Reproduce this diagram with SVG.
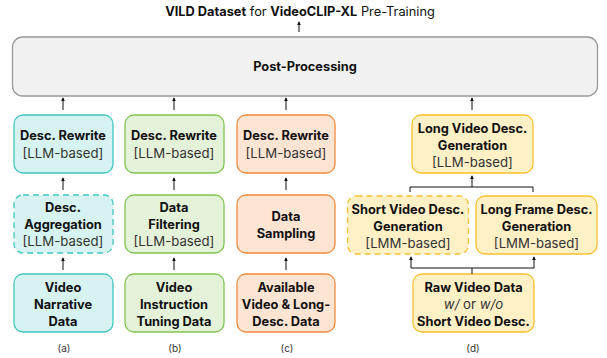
<svg xmlns="http://www.w3.org/2000/svg" width="607" height="358" viewBox="0 0 607 358">
<defs>
<marker id="ah" viewBox="0 0 6 6" refX="5" refY="3" markerWidth="4" markerHeight="4" orient="auto" markerUnits="userSpaceOnUse">
<path d="M0,0 L6,3 L0,6 z" fill="#111"/>
</marker>
<style>
text{font-family:Inter,"Noto Sans","DejaVu Sans",sans-serif;fill:#111;text-anchor:middle}
.b{font-weight:bold;font-size:12.8px}
.r{font-size:13.2px;fill:#333}
.t{font-size:12.8px}
.lab{font-size:10px;fill:#333}
.a{fill:#d6f3f1;stroke:#3fc7bf;stroke-width:1.3}
.g{fill:#e5f2da;stroke:#80c450;stroke-width:1.3}
.o{fill:#fde4d3;stroke:#f08b3e;stroke-width:1.3}
.y{fill:#fff0c6;stroke:#f6c12e;stroke-width:1.3}
.d{stroke-dasharray:6 4}
.c{stroke:#111;stroke-width:1;fill:none}
</style>
</defs>
<rect width="607" height="358" fill="#fff"/>
<text x="300" y="16" class="t"><tspan font-weight="bold">VILD Dataset</tspan> for <tspan font-weight="bold">VideoCLIP-XL</tspan> Pre-Training</text>
<g id="post">
<rect x="12.5" y="37" width="585" height="59" rx="10" fill="#f1f1f1" stroke="#999" stroke-width="1.3"/>
<text x="305" y="71" class="b">Post-Processing</text>
</g>
<g id="a1"><rect x="14" y="115" width="99" height="58" rx="9" class="a"/>
<text x="63" y="140" class="b">Desc. Rewrite</text><text x="63" y="158" class="r">[LLM-based]</text></g>
<g id="a2"><rect x="14" y="195" width="99" height="58" rx="9" class="a d"/>
<text x="63" y="212" class="b">Desc.</text><text x="63" y="229" class="b">Aggregation</text><text x="63" y="246" class="r">[LLM-based]</text></g>
<g id="a3"><rect x="14" y="274" width="99" height="58" rx="9" class="a"/>
<text x="63" y="292" class="b">Video</text><text x="63" y="309" class="b">Narrative</text><text x="63" y="326" class="b">Data</text></g>
<g id="b1"><rect x="125" y="115" width="99" height="58" rx="9" class="g"/>
<text x="174" y="140" class="b">Desc. Rewrite</text><text x="174" y="158" class="r">[LLM-based]</text></g>
<g id="b2"><rect x="125" y="195" width="99" height="58" rx="9" class="g"/>
<text x="174" y="212" class="b">Data</text><text x="174" y="229" class="b">Filtering</text><text x="174" y="246" class="r">[LLM-based]</text></g>
<g id="b3"><rect x="125" y="274" width="99" height="58" rx="9" class="g"/>
<text x="174" y="292" class="b">Video</text><text x="174" y="309" class="b">Instruction</text><text x="174" y="326" class="b">Tuning Data</text></g>
<g id="c1"><rect x="237" y="115" width="98" height="58" rx="9" class="o"/>
<text x="286" y="140" class="b">Desc. Rewrite</text><text x="286" y="158" class="r">[LLM-based]</text></g>
<g id="c2"><rect x="237" y="195" width="98" height="58" rx="9" class="o"/>
<text x="286" y="221" class="b">Data</text><text x="286" y="238" class="b">Sampling</text></g>
<g id="c3"><rect x="237" y="274" width="98" height="58" rx="9" class="o"/>
<text x="286" y="292" class="b">Available</text><text x="286" y="309" class="b">Video &amp; Long-</text><text x="286" y="326" class="b">Desc. Data</text></g>
<g id="d1"><rect x="412" y="115" width="121" height="58" rx="9" class="y"/>
<text x="472.5" y="133" class="b">Long Video Desc.</text><text x="472.5" y="150" class="b">Generation</text><text x="472.5" y="167" class="r">[LLM-based]</text></g>
<g id="d2"><rect x="347.5" y="196" width="121" height="58" rx="9" class="y d"/>
<text x="408" y="214" class="b">Short Video Desc.</text><text x="408" y="231" class="b">Generation</text><text x="408" y="248" class="r">[LMM-based]</text></g>
<g id="d3"><rect x="476" y="196" width="121" height="58" rx="9" class="y"/>
<text x="536.5" y="214" class="b">Long Frame Desc.</text><text x="536.5" y="231" class="b">Generation</text><text x="536.5" y="248" class="r">[LMM-based]</text></g>
<g id="d4"><rect x="413" y="274" width="121" height="58" rx="9" class="y"/>
<text x="473.5" y="292" class="b">Raw Video Data</text><text x="473.5" y="309" class="r"><tspan font-style="italic">w/</tspan> or <tspan font-style="italic">w/o</tspan></text><text x="473.5" y="326" class="b">Short Video Desc.</text></g>
<g id="labels">
<text x="64" y="352" class="lab">(a)</text><text x="175" y="352" class="lab">(b)</text><text x="287" y="352" class="lab">(c)</text><text x="473" y="352" class="lab">(d)</text>
</g>
<g id="connectors">
<line x1="299" y1="32" x2="299" y2="22" class="c" marker-end="url(#ah)"/>
<line x1="63" y1="110" x2="63" y2="98" class="c" marker-end="url(#ah)"/>
<line x1="174" y1="110" x2="174" y2="98" class="c" marker-end="url(#ah)"/>
<line x1="286" y1="110" x2="286" y2="98" class="c" marker-end="url(#ah)"/>
<line x1="472" y1="110" x2="472" y2="98" class="c" marker-end="url(#ah)"/>
<line x1="63" y1="190" x2="63" y2="178" class="c" marker-end="url(#ah)"/>
<line x1="174" y1="190" x2="174" y2="178" class="c" marker-end="url(#ah)"/>
<line x1="286" y1="190" x2="286" y2="178" class="c" marker-end="url(#ah)"/>
<line x1="63" y1="270" x2="63" y2="258" class="c" marker-end="url(#ah)"/>
<line x1="174" y1="270" x2="174" y2="258" class="c" marker-end="url(#ah)"/>
<line x1="286" y1="270" x2="286" y2="258" class="c" marker-end="url(#ah)"/>
<path d="M410,192 V187 H533 V192" class="c"/>
<line x1="472" y1="187" x2="472" y2="176" class="c" marker-end="url(#ah)"/>
<path d="M472,274 V268" class="c"/>
<path d="M411,268 H534" class="c"/>
<line x1="411" y1="268" x2="411" y2="257" class="c" marker-end="url(#ah)"/>
<line x1="534" y1="268" x2="534" y2="257" class="c" marker-end="url(#ah)"/>
</g>
</svg>
